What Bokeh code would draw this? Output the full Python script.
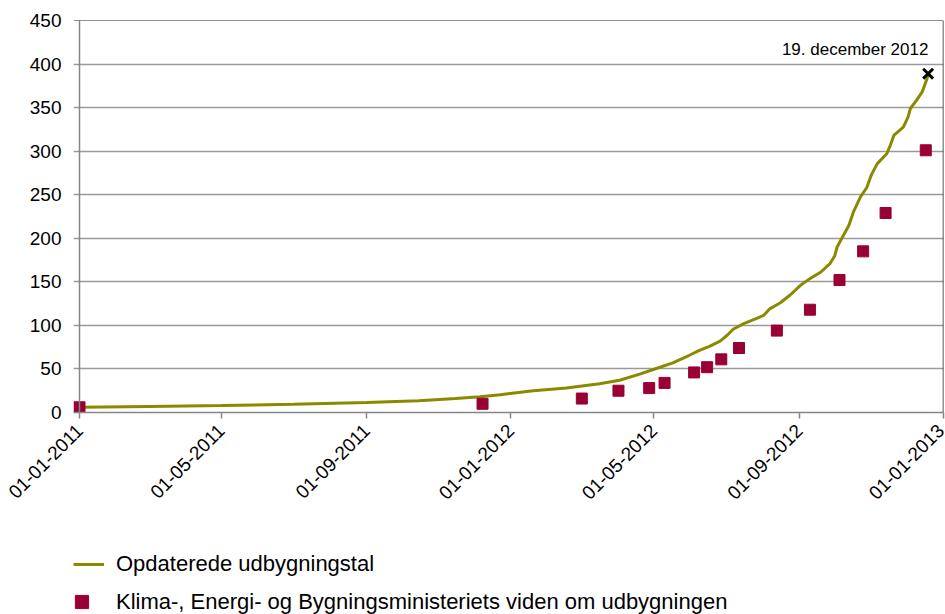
import pandas as pd
from bokeh.plotting import figure
from bokeh.layouts import column
from bokeh.models import (Range1d, FixedTicker, DatetimeTickFormatter, Legend,
                          LegendItem, Label, Span, ColumnDataSource)
from bokeh.embed import file_html
from bokeh.resources import INLINE

# ---------------- data ----------------
line_dates = ["2011-01-01", "2011-03-01", "2011-05-01", "2011-07-01", "2011-09-01",
              "2011-10-15", "2011-11-15", "2011-12-06", "2011-12-23", "2012-01-20",
              "2012-02-17", "2012-03-16", "2012-04-02", "2012-04-19", "2012-05-03",
              "2012-05-17", "2012-05-31", "2012-06-09", "2012-06-17", "2012-06-26",
              "2012-07-02", "2012-07-07", "2012-07-16", "2012-07-27", "2012-08-02",
              "2012-08-07", "2012-08-16", "2012-08-24", "2012-09-02", "2012-09-10",
              "2012-09-19", "2012-09-27", "2012-10-01", "2012-10-03", "2012-10-07",
              "2012-10-13", "2012-10-17", "2012-10-23", "2012-10-28", "2012-11-01",
              "2012-11-06", "2012-11-14", "2012-11-17", "2012-11-20", "2012-11-28",
              "2012-12-02", "2012-12-04", "2012-12-09", "2012-12-14", "2012-12-18",
              "2012-12-19"]
line_values = [6, 7, 8, 9.5, 11.5,
               13.5, 16, 18, 20.5, 25,
               28, 33, 37, 44, 50.5,
               57, 65.7, 71.5, 76, 82,
               88.7, 95.6, 102, 108, 111.6,
               119, 126, 134.6, 146, 153.7,
               161, 171, 180, 190, 200,
               215, 231, 248, 258, 273,
               285.7, 297, 306.7, 318, 327.7,
               339, 349, 358, 368, 383,
               389]

ministry_dates = ["2011-01-01", "2011-12-08", "2012-03-01", "2012-04-01", "2012-04-27",
                  "2012-05-10", "2012-06-04", "2012-06-15", "2012-06-27", "2012-07-12",
                  "2012-08-13", "2012-09-10", "2012-10-05", "2012-10-25", "2012-11-13",
                  "2012-12-17"]
ministry_values = [6, 10, 16, 25, 28, 34, 46, 52, 61, 74, 94, 118, 152, 185, 229, 301]

last_date = "2012-12-19"
last_value = 389
last_label = "19. december  2012"

x_tick_dates = ["2011-01-01", "2011-05-01", "2011-09-01", "2012-01-01",
                "2012-05-01", "2012-09-01", "2013-01-01"]
y_ticks = [0, 50, 100, 150, 200, 250, 300, 350, 400, 450]

series_line_name = "Opdaterede udbygningstal"
series_sq_name = "Klima-, Energi- og Bygningsministeriets viden om udbygningen"

# ---------------- figure ----------------
FONT = "Liberation Sans"
LINE_COLOR = "#8A8A00"
SQ_COLOR = "#990033"
AXIS_GRAY = "#868686"

x_ticks = [pd.Timestamp(d).value / 1e6 for d in x_tick_dates]
t0, t1 = x_ticks[0], x_ticks[-1]
# frame starts 6px left of the first date (grid lines poke out as ticks)
x_start = t0 - 6 * (t1 - t0) / 864.0

p = figure(width=945, height=540, x_axis_type="datetime",
           output_backend="svg", toolbar_location=None,
           x_range=Range1d(x_start, t1),
           y_range=Range1d(y_ticks[0], y_ticks[-1]),
           min_border_left=73, min_border_right=2, min_border_top=20,
           min_border_bottom=128)
p.background_fill_color = "white"
p.border_fill_color = "white"
p.outline_line_color = None

# grid
p.xgrid.grid_line_color = None
p.ygrid.grid_line_color = "#9A9A9A"
p.ygrid.grid_line_width = 1.5
p.ygrid.ticker = FixedTicker(ticks=y_ticks)

# axes
p.yaxis.ticker = FixedTicker(ticks=y_ticks)
p.xaxis.ticker = FixedTicker(ticks=x_ticks)
p.xaxis.formatter = DatetimeTickFormatter(days="%d-%m-%Y", months="%d-%m-%Y",
                                          years="%d-%m-%Y")
p.xaxis.major_label_orientation = 0.785398
for ax in (p.xaxis[0], p.yaxis[0]):
    ax.axis_line_color = AXIS_GRAY
    ax.axis_line_width = 1.5
    ax.major_tick_line_color = AXIS_GRAY
    ax.major_tick_line_width = 1.5
    ax.major_tick_out = 6
    ax.major_tick_in = 0
    ax.minor_tick_line_color = None
    ax.major_label_text_font = FONT
    ax.major_label_text_font_size = "19px"
    ax.major_label_text_color = "#000000"
p.yaxis.axis_line_color = None
p.yaxis.major_tick_line_color = None
p.yaxis.major_tick_out = 0
p.yaxis.major_label_standoff = 12
p.xaxis.major_label_standoff = 9

# value axis line at the first date, border top / right
p.add_layout(Span(location=t0, dimension="height", line_color=AXIS_GRAY,
                  line_width=1.5))
p.add_layout(Span(location=y_ticks[-1], dimension="width", line_color="#222222",
                  line_width=1.2))
p.add_layout(Span(location=t1, dimension="height", line_color="#222222",
                  line_width=1.5))

# series
line_src = ColumnDataSource(dict(x=pd.to_datetime(line_dates), y=line_values))
sq_src = ColumnDataSource(dict(x=pd.to_datetime(ministry_dates), y=ministry_values))

p.line("x", "y", source=line_src, line_color=LINE_COLOR, line_width=3)
p.scatter("x", "y", source=sq_src, marker="square", size=11,
          fill_color=SQ_COLOR, line_color=SQ_COLOR)

p.scatter([pd.Timestamp(last_date)], [last_value], marker="x", size=14,
          line_color="black", line_width=3)

p.add_layout(Label(x=pd.Timestamp(last_date).value / 1e6, y=last_value,
                   text=last_label, text_align="right", text_baseline="middle",
                   x_offset=5, y_offset=24, text_font=FONT,
                   text_font_size="17px", text_color="#000000"))

# ---------------- legend strip ----------------
lg = figure(width=945, height=74, output_backend="svg", toolbar_location=None,
            x_range=Range1d(0, 1), y_range=Range1d(0, 1),
            min_border=0, min_border_left=0, min_border_right=0,
            min_border_top=0, min_border_bottom=0)
lg.axis.visible = False
lg.grid.visible = False
lg.outline_line_color = None
lg.background_fill_color = "white"
lg.border_fill_color = "white"

# same series, they fall outside this strip's ranges; only their legend glyphs show
r_line = lg.line("x", "y", source=line_src, line_color=LINE_COLOR, line_width=3)
r_sq = lg.scatter("x", "y", source=sq_src, marker="square", size=13,
                  fill_color=SQ_COLOR, line_color=SQ_COLOR)

common = dict(orientation="vertical", label_text_font=FONT,
              label_text_font_size="22px", label_text_color="#000000",
              label_height=20, padding=0, margin=0,
              border_line_color=None, background_fill_alpha=0)
leg1 = Legend(items=[LegendItem(label=series_line_name, renderers=[r_line])],
              location=(0, 37), glyph_width=31, glyph_height=20,
              label_standoff=12, **common)
leg2 = Legend(items=[LegendItem(label=series_sq_name, renderers=[r_sq])],
              location=(-8, -4), glyph_width=33, glyph_height=33,
              label_standoff=18, **common)
lg.add_layout(leg1, "center")
lg.add_layout(leg2, "center")

layout = column(p, lg, spacing=0)
open("out.html", "w").write(file_html(layout, INLINE))
